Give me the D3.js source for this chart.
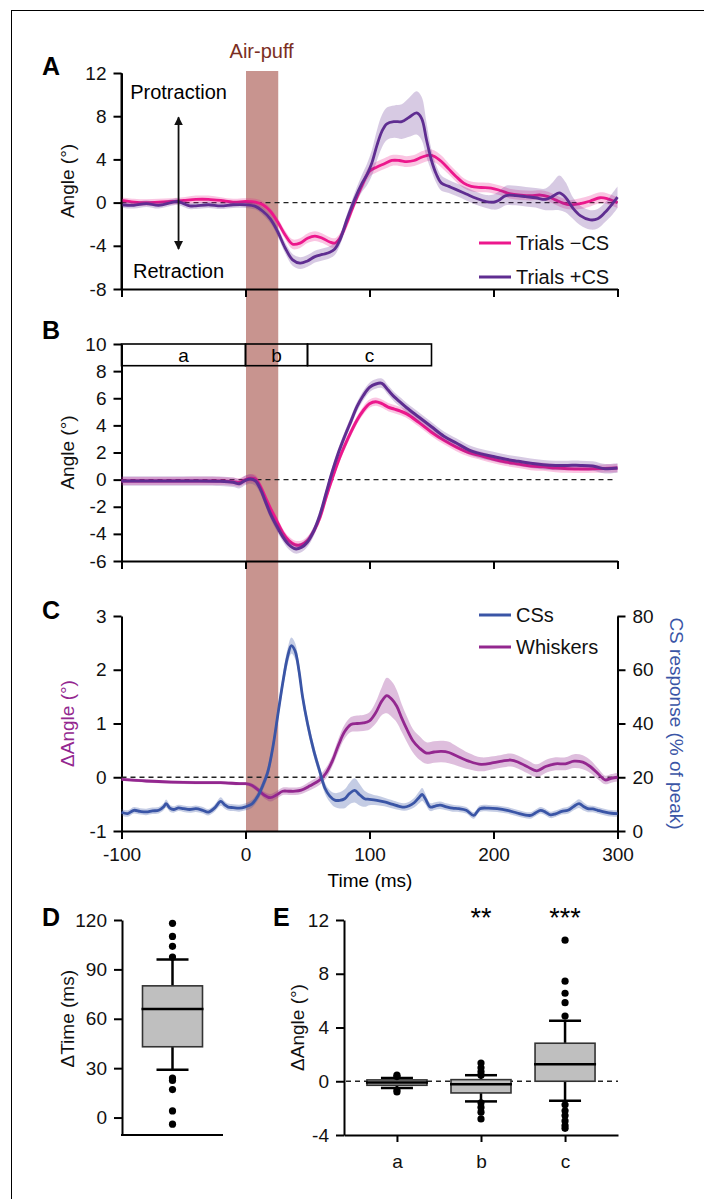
<!DOCTYPE html>
<html><head><meta charset="utf-8">
<script src="https://cdn.jsdelivr.net/npm/d3@7"></script>
<style>
body{margin:0;background:#fff}
svg{display:block}
text{font-family:"Liberation Sans",Arial,Helvetica,sans-serif}
</style>
</head><body>
<svg id="fig" width="704" height="1199"></svg>
<script>
// ---------------- DATA ----------------
// Panel A: trials without CS (pink)
const aNegT = [-100,-90,-80,-70,-60,-50,-40,-30,-20,-10,0,8,14,20,26,32,38,44,50,56,62,68,72,76,82,88,94,100,106,112,118,124,130,136,142,148,152,158,164,170,176,182,190,198,206,214,222,230,238,244,250,256,262,270,278,286,292,300];
const aNegY = [0.2,0.05,0.0,0.05,0.1,0.2,0.3,0.3,0.2,0.05,0.1,0.05,-0.2,-0.8,-1.8,-3.0,-3.85,-3.75,-3.3,-3.1,-3.3,-3.65,-3.75,-3.3,-1.8,0.0,1.6,2.9,3.3,3.6,3.9,3.9,3.8,3.9,4.2,4.4,4.3,3.8,3.1,2.4,1.8,1.5,1.4,1.35,1.1,0.8,0.7,0.65,0.7,0.55,0.25,-0.05,-0.2,-0.1,0.15,0.45,0.35,0.0];
const aNegE = [0.3,0.3,0.3,0.3,0.3,0.3,0.35,0.35,0.3,0.3,0.3,0.3,0.3,0.3,0.35,0.4,0.45,0.45,0.45,0.45,0.45,0.45,0.45,0.45,0.45,0.45,0.45,0.5,0.5,0.5,0.5,0.5,0.5,0.5,0.55,0.55,0.55,0.55,0.5,0.5,0.45,0.45,0.45,0.45,0.45,0.45,0.45,0.45,0.45,0.45,0.45,0.45,0.45,0.5,0.5,0.5,0.5,0.5];
// Panel A: trials with CS (purple)
const aPosT = [-100,-90,-80,-70,-60,-55,-50,-45,-40,-30,-20,-10,0,8,14,20,26,32,38,44,50,56,62,68,72,76,82,88,94,98,102,106,110,114,120,126,132,138,142,146,150,154,158,164,170,178,186,194,200,204,210,218,226,234,242,248,253,258,264,270,278,284,290,296,300];
const aPosY = [-0.2,-0.25,-0.1,-0.25,0.0,0.1,-0.1,-0.3,-0.3,-0.2,-0.3,-0.2,-0.2,-0.35,-0.8,-1.5,-2.7,-4.2,-5.3,-5.6,-5.4,-5.0,-4.8,-4.6,-4.3,-3.5,-1.5,0.3,1.8,2.6,3.7,5.3,6.6,7.3,7.5,7.5,7.9,8.3,7.8,5.8,3.9,2.6,1.8,1.5,1.2,0.8,0.4,0.1,0.05,0.2,0.65,0.65,0.55,0.45,0.3,0.6,0.9,0.5,-0.5,-1.2,-1.6,-1.5,-0.9,-0.1,0.5];
const aPosE = [0.3,0.3,0.3,0.3,0.3,0.3,0.3,0.3,0.3,0.3,0.3,0.3,0.3,0.3,0.35,0.4,0.45,0.5,0.55,0.55,0.55,0.55,0.55,0.55,0.55,0.5,0.5,0.6,0.8,1.0,1.2,1.4,1.5,1.5,1.5,1.6,1.8,2.0,2.0,1.6,1.0,0.8,0.7,0.6,0.6,0.6,0.6,0.6,0.7,0.8,0.9,0.9,0.9,0.9,1.0,1.3,1.6,1.4,1.0,0.9,0.9,0.9,0.9,1.0,1.0];

// Panel B: all trials, -CS (pink) and +CS (purple)
const bT    = [-100,-50,-20,-10,-5,0,4,8,12,16,20,25,30,35,40,45,50,55,60,65,70,75,80,85,90,95,100,105,110,115,120,125,130,140,150,160,170,180,190,200,210,220,230,240,250,260,270,280,290,300];
const bNegY = [-0.1,-0.1,-0.1,-0.15,-0.2,0.0,0.1,0.05,-0.5,-1.3,-2.1,-3.0,-3.9,-4.5,-4.8,-4.8,-4.5,-3.8,-2.8,-1.3,0.1,1.4,2.5,3.5,4.4,5.1,5.6,5.75,5.6,5.35,5.2,5.05,4.85,4.2,3.5,2.9,2.4,2.0,1.75,1.5,1.3,1.15,1.0,0.95,0.85,0.8,0.78,0.8,0.82,0.85];
const bPosY = [-0.1,-0.1,-0.12,-0.2,-0.3,-0.05,0.05,-0.1,-0.7,-1.6,-2.5,-3.4,-4.2,-4.8,-5.1,-5.0,-4.6,-3.8,-2.6,-1.0,0.6,2.0,3.2,4.3,5.4,6.2,6.8,7.05,7.1,6.6,6.1,5.7,5.3,4.6,3.9,3.2,2.7,2.2,1.9,1.7,1.5,1.35,1.2,1.1,1.05,1.05,1.05,1.0,0.8,0.85];
const bNegE = 0.3;
const bPosE = 0.35;

// Panel C: whisker difference (left axis) and CS response (right axis)
const cWT = [-100,-80,-60,-40,-20,-5,0,5,10,15,20,25,30,35,40,45,52,60,65,70,75,80,85,90,95,100,105,110,114,118,122,126,130,135,140,146,152,158,164,170,180,190,200,207,214,220,227,235,242,250,258,265,272,278,285,290,295,300];
const cWY = [-0.04,-0.07,-0.09,-0.1,-0.1,-0.12,-0.12,-0.15,-0.23,-0.33,-0.38,-0.33,-0.26,-0.26,-0.26,-0.24,-0.16,-0.05,0.08,0.3,0.6,0.85,0.98,1.0,1.01,1.05,1.2,1.42,1.52,1.45,1.32,1.1,0.9,0.68,0.55,0.45,0.47,0.48,0.46,0.4,0.3,0.24,0.27,0.3,0.32,0.28,0.2,0.12,0.2,0.25,0.25,0.3,0.28,0.2,0.05,-0.05,-0.02,0.0];
const cWE = [0.03,0.03,0.03,0.03,0.03,0.03,0.03,0.04,0.05,0.06,0.07,0.07,0.07,0.07,0.07,0.07,0.08,0.09,0.1,0.1,0.12,0.13,0.14,0.15,0.15,0.16,0.2,0.26,0.33,0.33,0.3,0.26,0.24,0.22,0.22,0.2,0.2,0.2,0.2,0.18,0.15,0.13,0.12,0.12,0.12,0.12,0.12,0.12,0.12,0.12,0.12,0.13,0.13,0.12,0.1,0.08,0.08,0.08];
const cST = [-100,-95,-90,-85,-80,-75,-70,-66,-64,-61,-58,-54,-50,-45,-40,-35,-30,-25,-20,-17,-14,-10,-5,0,5,10,14,18,22,26,30,34,37,40,43,46,50,55,60,64,68,72,76,80,84,88,92,96,100,106,112,118,124,128,132,136,140,142.5,145,149,153,157,162,167,172,178,184,189,196,203,211,219,225,230,234,238,242,246,250,255,260,265,269,273,276,280,284,290,295,300];
const cSY = [7.0,6.5,7.7,7.3,7.1,7.5,7.7,9.0,10.2,8.5,8.0,8.6,8.3,8.0,8.3,7.8,7.0,8.5,11.0,9.8,8.9,8.7,8.5,9.0,10.0,13.0,17.0,22.0,31.0,43.0,55.0,65.0,69.0,67.0,60.0,50.0,40.0,30.0,22.0,16.0,13.0,11.5,11.4,12.0,14.0,15.1,13.5,12.0,11.8,11.4,10.8,10.0,9.2,8.9,9.4,10.5,12.5,13.6,12.0,8.9,9.3,9.6,9.0,8.5,8.3,7.7,5.8,8.3,8.5,8.3,7.7,6.7,6.0,5.8,6.8,7.7,7.0,6.0,6.4,7.3,7.7,9.2,10.2,9.0,8.3,8.2,7.7,7.0,6.6,6.5];
const cSE = [1.2,1.2,1.2,1.2,1.2,1.2,1.2,1.3,1.5,1.3,1.2,1.2,1.2,1.2,1.2,1.2,1.2,1.3,1.6,1.4,1.3,1.3,1.3,1.3,1.4,1.6,1.8,2.0,2.2,2.5,2.8,3.0,3.0,3.0,2.8,2.6,2.4,2.2,2.0,2.0,2.2,2.6,3.0,3.5,4.0,4.5,4.0,3.0,2.2,1.8,1.6,1.5,1.4,1.4,1.5,1.8,2.2,2.4,2.0,1.5,1.4,1.4,1.3,1.3,1.2,1.2,1.2,1.2,1.2,1.2,1.2,1.2,1.2,1.2,1.2,1.2,1.2,1.2,1.2,1.2,1.3,1.4,1.6,1.5,1.3,1.2,1.2,1.2,1.2,1.2];

// Epochs (ms)
const epochNames = ["a","b","c"];
const epochStart = [-100,0,50];
const epochEnd   = [0,50,150];
const airPuff = [0,26];

// Tick labels
const timeTicks = [-100,0,100,200,300];
const aTicks = [-8,-4,0,4,8,12];
const bTicks = [-6,-4,-2,0,2,4,6,8,10];
const cLeftTicks = [-1,0,1,2,3];
const cRightTicks = [0,20,40,60,80];
const dTicks = [0,30,60,90,120];
const eTicks = [-4,0,4,8,12];

// Panel D: box plot ΔTime
const dCats = ["dt"];
const dStats = [{q1:43, med:66, q3:80, lo:29, hi:96}];
const dOut = [[118,110,104,97.5,24,22.5,17,4,-4]];

// Panel E: box plots ΔAngle per epoch
const eCats = ["a","b","c"];
const eStats = [
  {q1:-0.3, med:-0.1, q3:0.1, lo:-0.5, hi:0.25},
  {q1:-0.87, med:-0.22, q3:0.12, lo:-1.5, hi:0.45},
  {q1:0.0, med:1.27, q3:2.83, lo:-1.45, hi:4.5}
];
const eOut = [
  [0.45,0.35,-0.65,-0.8],
  [1.35,1.0,0.7,0.45,-1.6,-1.95,-2.3,-2.8],
  [10.5,7.45,6.55,5.85,4.85,-1.75,-2.2,-2.55,-2.95,-3.3,-3.5]
];
const eStars = ["","**","***"];

// ---------------- STYLE ----------------
const FONT = "'Liberation Sans', Arial, Helvetica, sans-serif";
const PINK = "#ec178c", PINK_B = "rgba(236,23,140,0.25)";
const PURP = "#5f2d91", PURP_B = "rgba(95,45,145,0.25)";
const WHISK = "#93278f", WHISK_B = "rgba(147,39,143,0.3)";
const CSB = "#3a55a6", CSB_B = "rgba(58,85,166,0.3)";
const PUFF = "#c8948f";
const FS = 19;
const fmt = d => String(d);

const svg = d3.select("#fig");

// scales
const x = d3.scaleLinear().domain([-100,300]).range([121.5,617.5]);
const yA = d3.scaleLinear().domain([-8,12]).range([289,73]);
const yB = d3.scaleLinear().domain([-6,10]).range([561,344]);
const yC = d3.scaleLinear().domain([-1,3]).range([831,616]);
const yCR = d3.scaleLinear().domain([0,80]).range([831,616]);
const yD = d3.scaleLinear().domain([-10.6,120]).range([1135,920]);
const yE = d3.scaleLinear().domain([-4,12]).range([1135,920]);
const xD = d3.scalePoint().domain(dCats).range([122,223]).padding(0.5);
const xE = d3.scalePoint().domain(eCats).range([344,618]).padding(0.63);

// frame
svg.append("line").attr("x1",11).attr("x2",704).attr("y1",10.5).attr("y2",10.5).attr("stroke","#000").attr("stroke-width",1);
svg.append("line").attr("x1",11.5).attr("x2",11.5).attr("y1",10).attr("y2",1199).attr("stroke","#000").attr("stroke-width",1);

// air-puff bar
svg.append("rect").attr("x",x(airPuff[0])+0.5).attr("width",x(airPuff[1])-x(airPuff[0]))
  .attr("y",71).attr("height",yC(-1)-71).attr("fill",PUFF);
svg.append("text").attr("x",(x(airPuff[0])+x(airPuff[1]))/2).attr("y",58)
  .attr("text-anchor","middle").attr("font-size",20).attr("fill","#7b2e22").text("Air-puff");

function styleAxis(g){
  g.attr("font-family",FONT).attr("font-size",FS);
  g.selectAll("path.domain").attr("stroke","#000").attr("stroke-width",2);
  g.selectAll(".tick line").attr("stroke","#000").attr("stroke-width",2);
  g.selectAll(".tick text").attr("fill","#111");
}
function panelLetter(t,xx,yy){
  svg.append("text").attr("x",xx).attr("y",yy).attr("font-size",25).attr("font-weight","bold").text(t);
}
function yLabel(t,xx,yy,col,rot){
  svg.append("text").attr("transform",`translate(${xx},${yy}) rotate(${rot||-90})`)
    .attr("text-anchor","middle").attr("font-size",FS).attr("fill",col||"#111").text(t);
}
function zeroLine(y, x1, x2){
  svg.append("line").attr("x1",x1).attr("x2",x2).attr("y1",y).attr("y2",y)
    .attr("stroke","#222").attr("stroke-width",1.3).attr("stroke-dasharray","5,4");
}
function series(T, Y, E, ys, col, band, lw){
  const pts = T.map((t,i)=>({t, v:Y[i], e: Array.isArray(E)?E[i]:E}));
  const curve = d3.curveCatmullRom.alpha(0.5);
  svg.append("path").datum(pts).attr("fill",band)
    .attr("d", d3.area().x(d=>x(d.t)).y0(d=>ys(d.v-d.e)).y1(d=>ys(d.v+d.e)).curve(curve));
  svg.append("path").datum(pts).attr("fill","none").attr("stroke",col).attr("stroke-width",lw||2.8)
    .attr("stroke-linejoin","round").attr("d", d3.line().x(d=>x(d.t)).y(d=>ys(d.v)).curve(curve));
}
function legend(items, x1, y0, dy){
  items.forEach((it,i)=>{
    const yy = y0 + i*dy;
    svg.append("line").attr("x1",x1).attr("x2",x1+32).attr("y1",yy).attr("y2",yy).attr("stroke",it.c).attr("stroke-width",3);
    svg.append("text").attr("x",x1+37).attr("y",yy+7).attr("font-size",20).attr("fill","#111").text(it.t);
  });
}

// ---------- Panel A ----------
panelLetter("A",42,75);
svg.append("g").attr("transform",`translate(${x(-100)},0)`)
  .call(d3.axisLeft(yA).tickValues(aTicks).tickFormat(fmt).tickSize(8).tickPadding(7).tickSizeOuter(0)).call(styleAxis);
svg.append("g").attr("transform",`translate(0,${yA(-8)})`)
  .call(d3.axisBottom(x).tickValues(timeTicks).tickSize(8).tickFormat("").tickSizeOuter(0)).call(styleAxis);
yLabel("Angle (°)",74,yA(2));
zeroLine(yA(0), x(-100), x(300));
series(aNegT,aNegY,aNegE,yA,PINK,PINK_B);
series(aPosT,aPosY,aPosE,yA,PURP,PURP_B);
svg.append("line").attr("x1",x(-100)).attr("x2",x(-100)).attr("y1",yA(12)).attr("y2",yA(-8)).attr("stroke","#000").attr("stroke-width",2);
// arrow
const defs = svg.append("defs");
defs.append("marker").attr("id","ah").attr("viewBox","0 0 10 10").attr("refX",9).attr("refY",5)
  .attr("markerWidth",9).attr("markerHeight",9).attr("markerUnits","userSpaceOnUse").attr("orient","auto-start-reverse")
  .append("path").attr("d","M0,0 L10,5 L0,10 Z").attr("fill","#111");
svg.append("line").attr("x1",x(-54)).attr("x2",x(-54)).attr("y1",yA(7.9)).attr("y2",yA(-4.3))
  .attr("stroke","#111").attr("stroke-width",1.8).attr("marker-start","url(#ah)").attr("marker-end","url(#ah)");
svg.append("text").attr("x",x(-54)).attr("y",99).attr("text-anchor","middle").attr("font-size",20).text("Protraction");
svg.append("text").attr("x",x(-54)).attr("y",278).attr("text-anchor","middle").attr("font-size",20).text("Retraction");
legend([{t:"Trials \u2212CS",c:PINK},{t:"Trials +CS",c:PURP}],479,243,34);

// ---------- Panel B ----------
panelLetter("B",42,339);
svg.append("g").attr("transform",`translate(${x(-100)},0)`)
  .call(d3.axisLeft(yB).tickValues(bTicks).tickFormat(fmt).tickSize(8).tickPadding(7).tickSizeOuter(0)).call(styleAxis);
svg.append("g").attr("transform",`translate(0,${yB(-6)})`)
  .call(d3.axisBottom(x).tickValues(timeTicks).tickSize(8).tickFormat("").tickSizeOuter(0)).call(styleAxis);
yLabel("Angle (°)",74,yB(2));
zeroLine(yB(0), x(-100), x(296));
series(bT,bNegY,bNegE,yB,PINK,PINK_B,3);
series(bT,bPosY,bPosE,yB,PURP,PURP_B,3);
epochNames.forEach((n,i)=>{
  svg.append("rect").attr("x",x(epochStart[i])).attr("width",x(epochEnd[i])-x(epochStart[i]))
    .attr("y",yB(10)).attr("height",yB(8.4)-yB(10)).attr("fill","none").attr("stroke","#000").attr("stroke-width",1.6);
  svg.append("text").attr("x",(x(epochStart[i])+x(epochEnd[i]))/2).attr("y",yB(9.2)+7)
    .attr("text-anchor","middle").attr("font-size",FS).text(n);
});

// ---------- Panel C ----------
panelLetter("C",42,619);
svg.append("g").attr("transform",`translate(${x(-100)},0)`)
  .call(d3.axisLeft(yC).tickValues(cLeftTicks).tickFormat(fmt).tickSize(8).tickPadding(7).tickSizeOuter(0)).call(styleAxis);
svg.append("g").attr("transform",`translate(${x(300)},0)`)
  .call(d3.axisRight(yCR).tickValues(cRightTicks).tickFormat(fmt).tickSize(8).tickPadding(7).tickSizeOuter(0)).call(styleAxis);
svg.append("g").attr("transform",`translate(0,${yC(-1)})`)
  .call(d3.axisBottom(x).tickValues(timeTicks).tickFormat(fmt).tickSize(8).tickPadding(9).tickSizeOuter(0)).call(styleAxis);
yLabel("\u0394Angle (°)",74,yC(1),WHISK);
yLabel("CS response (% of peak)",670,yCR(40),CSB,90);
svg.append("text").attr("x",370).attr("y",887).attr("text-anchor","middle").attr("font-size",FS).text("Time (ms)");
zeroLine(yC(0), x(-100), x(300));
series(cWT,cWY,cWE,yC,WHISK,WHISK_B);
series(cST,cSY,cSE,yCR,CSB,CSB_B);
legend([{t:"CSs",c:CSB},{t:"Whiskers",c:WHISK}],479,615,32);

// ---------- Panel D ----------
panelLetter("D",42,926);
svg.append("g").attr("transform",`translate(${xD.range()[0]},0)`)
  .call(d3.axisLeft(yD).tickValues(dTicks).tickFormat(fmt).tickSize(8).tickPadding(7).tickSizeOuter(0)).call(styleAxis);
svg.append("line").attr("x1",xD.range()[0]-1).attr("x2",xD.range()[1]).attr("y1",yD(-10.6)).attr("y2",yD(-10.6)).attr("stroke","#000").attr("stroke-width",2);
yLabel("\u0394Time (ms)",74,yD(60));

function boxPlot(cx, s, outs, ys){
  const w = 60, cw = 32;
  const g = svg.append("g");
  g.append("line").attr("x1",cx).attr("x2",cx).attr("y1",ys(s.q3)).attr("y2",ys(s.hi)).attr("stroke","#000").attr("stroke-width",2.5);
  g.append("line").attr("x1",cx).attr("x2",cx).attr("y1",ys(s.q1)).attr("y2",ys(s.lo)).attr("stroke","#000").attr("stroke-width",2.5);
  g.append("line").attr("x1",cx-cw/2).attr("x2",cx+cw/2).attr("y1",ys(s.hi)).attr("y2",ys(s.hi)).attr("stroke","#000").attr("stroke-width",2.5);
  g.append("line").attr("x1",cx-cw/2).attr("x2",cx+cw/2).attr("y1",ys(s.lo)).attr("y2",ys(s.lo)).attr("stroke","#000").attr("stroke-width",2.5);
  g.append("rect").attr("x",cx-w/2).attr("width",w).attr("y",ys(s.q3)).attr("height",ys(s.q1)-ys(s.q3))
    .attr("fill","#bfbfbf").attr("stroke","#333").attr("stroke-width",1.6);
  g.append("line").attr("x1",cx-w/2-1).attr("x2",cx+w/2+1).attr("y1",ys(s.med)).attr("y2",ys(s.med)).attr("stroke","#000").attr("stroke-width",2.5);
  g.selectAll("circle.o").data(outs).enter().append("circle").attr("cx",cx).attr("cy",d=>ys(d)).attr("r",3.6).attr("fill","#000");
}
dCats.forEach((c,i)=>boxPlot(xD(c), dStats[i], dOut[i], yD));

// ---------- Panel E ----------
panelLetter("E",273,926);
svg.append("g").attr("transform",`translate(344,0)`)
  .call(d3.axisLeft(yE).tickValues(eTicks).tickFormat(fmt).tickSize(8).tickPadding(7).tickSizeOuter(0)).call(styleAxis);
svg.append("g").attr("transform",`translate(0,${yE(-4)})`)
  .call(d3.axisBottom(xE).tickSize(7).tickPadding(13).tickSizeOuter(0)).call(styleAxis);
yLabel("\u0394Angle (°)",304,yE(4));
zeroLine(yE(0), 346, 618);
eCats.forEach((c,i)=>boxPlot(xE(c), eStats[i], eOut[i], yE));
eCats.forEach((c,i)=>{
  svg.append("text").attr("x",xE(c)).attr("y",927).attr("text-anchor","middle").attr("font-size",27).text(eStars[i]);
});
</script>
</body></html>
